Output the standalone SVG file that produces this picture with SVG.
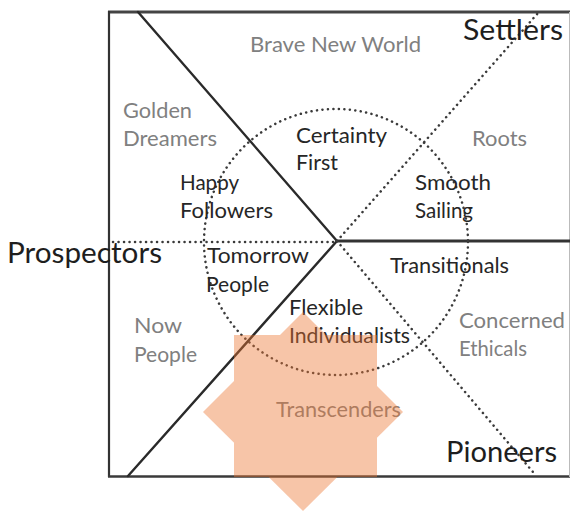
<svg xmlns="http://www.w3.org/2000/svg" width="571" height="511" viewBox="0 0 571 511">
<style>
.solid{stroke:#2a2a2a;stroke-width:2.4;fill:none;stroke-linecap:round}
.dot{stroke:#3a3a3a;stroke-width:2.5;fill:none;stroke-linecap:round;stroke-dasharray:0.1 5.4}
text{font-family:Lato,"Open Sans","Liberation Sans",sans-serif}
.big{font-size:28px;fill:#1e1e1e}
.med{font-size:21px;fill:#262626}
.gray{font-size:21px;fill:#808080}
</style>
<rect width="571" height="511" fill="#ffffff"/>
<g id="frame">
<line x1="108" y1="12" x2="570" y2="12" stroke="#444" stroke-width="3"/>
<line x1="109" y1="11" x2="109" y2="477" stroke="#333" stroke-width="2.2"/>
<line x1="108" y1="476.5" x2="570" y2="476.5" stroke="#3a3a3a" stroke-width="2.4"/>
<line x1="569.5" y1="12" x2="569.5" y2="477" stroke="#bbb" stroke-width="1"/>
</g>
<g id="connectors">
<line class="solid" x1="138" y1="12" x2="337" y2="241"/>
<line class="solid" x1="337" y1="241" x2="128" y2="476"/>
<line x1="337" y1="241" x2="570" y2="241" stroke="#333" stroke-width="3"/>
<line class="dot" x1="113" y1="242" x2="337" y2="242"/>
<line class="dot" x1="337" y1="241" x2="538" y2="13"/>
<line class="dot" x1="337" y1="241" x2="533" y2="472"/>
<ellipse class="dot" cx="336" cy="242" rx="132" ry="133"/>
</g>
<g id="settlers"><text class="big" x="463" y="40" textLength="100" lengthAdjust="spacingAndGlyphs">Settlers</text></g>
<g id="prospectors"><text class="big" x="7" y="263" textLength="155" lengthAdjust="spacingAndGlyphs">Prospectors</text></g>
<g id="pioneers"><text class="big" x="446" y="462" textLength="111" lengthAdjust="spacingAndGlyphs">Pioneers</text></g>
<g id="brave-new-world"><text class="gray" x="250" y="52" textLength="171" lengthAdjust="spacingAndGlyphs">Brave New World</text></g>
<g id="golden-dreamers"><text class="gray" x="123" y="118" textLength="69" lengthAdjust="spacingAndGlyphs">Golden</text><text class="gray" x="123" y="146" textLength="94" lengthAdjust="spacingAndGlyphs">Dreamers</text></g>
<g id="roots"><text class="gray" x="472" y="146" textLength="55" lengthAdjust="spacingAndGlyphs">Roots</text></g>
<g id="concerned-ethicals"><text class="gray" x="459" y="328" textLength="106" lengthAdjust="spacingAndGlyphs">Concerned</text><text class="gray" x="459" y="356" textLength="68" lengthAdjust="spacingAndGlyphs">Ethicals</text></g>
<g id="now-people"><text class="gray" x="134" y="333" textLength="48" lengthAdjust="spacingAndGlyphs">Now</text><text class="gray" x="134" y="362" textLength="63" lengthAdjust="spacingAndGlyphs">People</text></g>
<g id="transcenders"><text class="gray" x="276" y="417" textLength="125" lengthAdjust="spacingAndGlyphs">Transcenders</text></g>
<g id="certainty-first"><text class="med" x="296" y="143" textLength="91" lengthAdjust="spacingAndGlyphs">Certainty</text><text class="med" x="296" y="170" textLength="42" lengthAdjust="spacingAndGlyphs">First</text></g>
<g id="happy-followers"><text class="med" x="180" y="190" textLength="59" lengthAdjust="spacingAndGlyphs">Happy</text><text class="med" x="180" y="218" textLength="93" lengthAdjust="spacingAndGlyphs">Followers</text></g>
<g id="smooth-sailing"><text class="med" x="415" y="190" textLength="76" lengthAdjust="spacingAndGlyphs">Smooth</text><text class="med" x="415" y="218" textLength="58" lengthAdjust="spacingAndGlyphs">Sailing</text></g>
<g id="tomorrow-people"><text class="med" x="207" y="263" textLength="102" lengthAdjust="spacingAndGlyphs">Tomorrow</text><text class="med" x="206" y="292" textLength="63" lengthAdjust="spacingAndGlyphs">People</text></g>
<g id="transitionals"><text class="med" x="390" y="273" textLength="119" lengthAdjust="spacingAndGlyphs">Transitionals</text></g>
<g id="flexible-individualists"><text class="med" x="289" y="315" textLength="74" lengthAdjust="spacingAndGlyphs">Flexible</text><text class="med" x="289" y="343" textLength="121" lengthAdjust="spacingAndGlyphs">Individualists</text></g>
<g id="star" opacity="0.42" fill="#EE7733">
<rect x="234" y="335" width="143" height="142"/>
<polygon points="303,312 403,412 303,511 203,412"/>
</g>
</svg>
